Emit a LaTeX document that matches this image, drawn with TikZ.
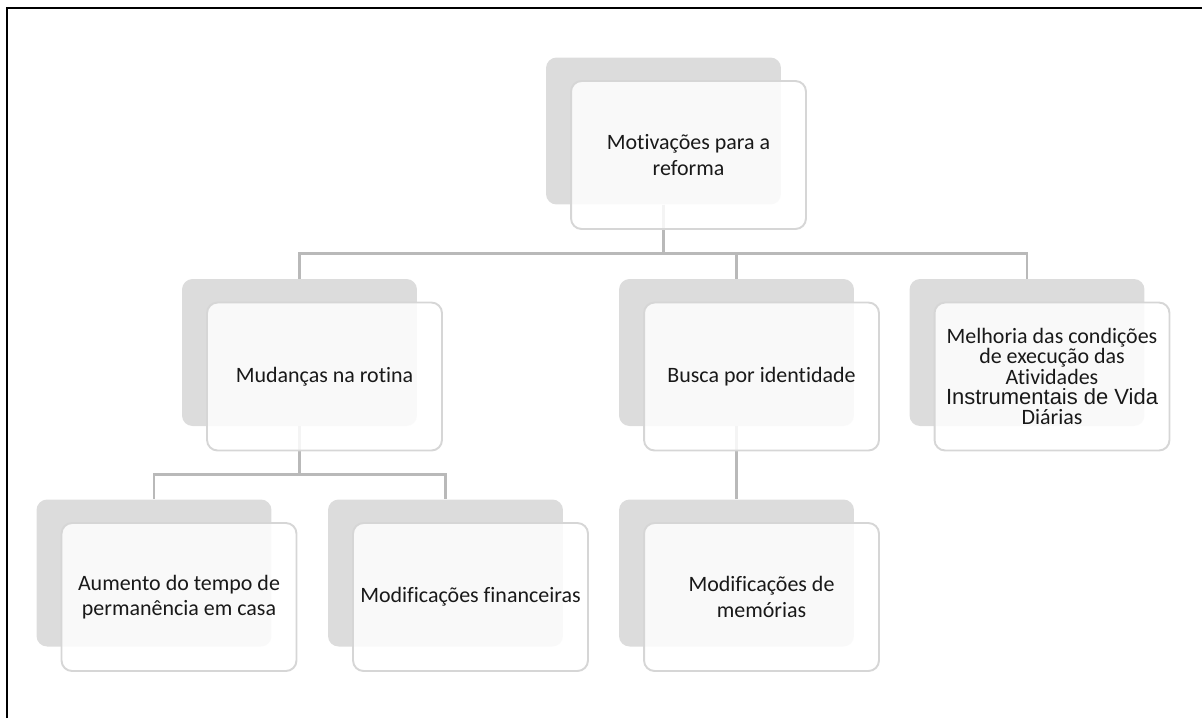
\documentclass[tikz,border=0pt]{standalone}
\usepackage{fontspec}
\setmainfont{Carlito}[Ligatures={NoCommon}]
\newfontfamily\arialfont{Liberation Sans}
\definecolor{boxgray}{RGB}{220,220,220}
\definecolor{edgegray}{RGB}{214,214,214}
\definecolor{linegray}{RGB}{185,185,185}
\definecolor{txtgray}{RGB}{25,25,25}
\tikzset{
  backbox/.style={fill=boxgray, rounded corners=6pt, minimum width=4.7cm, minimum height=2.94cm, inner sep=0pt},
  frontbox/.style={fill=white, fill opacity=0.85, text opacity=1, draw=edgegray, line width=1.1pt,
    rounded corners=6pt, minimum width=4.7cm, minimum height=2.96cm, align=center,
    font=\fontsize{12.5}{14.5}\selectfont, text=txtgray},
  conn/.style={draw=linegray, line width=1.6pt}
}
\begin{document}
\begin{tikzpicture}[x=0.02cm, y=-0.02cm]
  \useasboundingbox (0,0) rectangle (1202,718);
  \draw[line width=1.4pt] (7,718) -- (7,8) -- (1202,8);
  % back cards
  \node[backbox] (mot) at (663.5,131) {};
  \node[backbox] (mud) at (299.5,352.5) {};
  \node[backbox] (bus) at (736.5,352.5) {};
  \node[backbox] (mel) at (1027,352.5) {};
  \node[backbox] (aum) at (154,573) {};
  \node[backbox] (fin) at (445.5,573) {};
  \node[backbox] (mem) at (736.5,573) {};
  % connectors
  \foreach \n in {mud,bus,mel} \draw[conn] (mot.south) -- ++(0,49) -| (\n.north);
  \foreach \n in {aum,fin} \draw[conn] (mud.south) -- ++(0,48) -| (\n.north);
  \draw[conn] (bus.south) -- (mem.north);
  % front cards
  \node[frontbox] (motf) at ([shift={(25,24)}]mot.center) {Motivações para a\\reforma};
  \node[frontbox] (mudf) at ([shift={(25,24)}]mud.center) {Mudanças na rotina};
  \node[frontbox] (busf) at ([shift={(25,24)}]bus.center) {Busca por identidade};
  \node[frontbox, font=\fontsize{12.5}{11.5}\selectfont] (melf) at ([shift={(25,24)}]mel.center)
    {Melhoria das condições\\de execução das\\Atividades\\{\arialfont Instrumentais de Vida}\\Diárias};
  \node[frontbox] (aumf) at ([shift={(25,24)}]aum.center) {Aumento do tempo de\\permanência em casa};
  \node[frontbox] (finf) at ([shift={(25,24)}]fin.center) {Modificações financeiras};
  \node[frontbox] (memf) at ([shift={(25,24)}]mem.center) {Modificações de\\memórias};
\end{tikzpicture}
\end{document}
